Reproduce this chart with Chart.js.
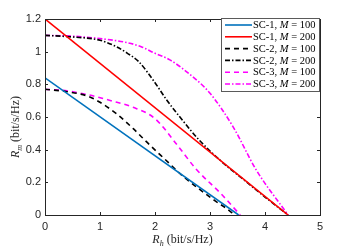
<!DOCTYPE html>
<html>
<head>
<meta charset="utf-8">
<script src="https://cdn.jsdelivr.net/npm/chart.js@4.4.0/dist/chart.umd.min.js"></script>
<style>
  html, body { margin: 0; padding: 0; background: #fff; }
  canvas { display: block; }
</style>
</head>
<body>
<canvas id="chart" width="354" height="248"></canvas>
<script>
const xTicks = [0, 1, 2, 3, 4, 5];
const yTicks = [0, 0.2, 0.4, 0.6, 0.8, 1, 1.2];

const seriesNames = ['SC-1', 'SC-1', 'SC-2', 'SC-2', 'SC-3', 'SC-3'];
const seriesM = [100, 200, 100, 200, 100, 200];

// R_h values, R_m values for each curve
const sc1_100_x = [0, 3.52];
const sc1_100_y = [0.84, 0];
const sc1_200_x = [0, 4.42];
const sc1_200_y = [1.2, 0];
const sc2_100_x = [0, 0.4, 0.8, 1.0, 1.3, 1.6, 1.9, 2.2, 2.5, 2.8, 3.1, 3.3, 3.45];
const sc2_100_y = [0.77, 0.755, 0.725, 0.69, 0.62, 0.53, 0.43, 0.335, 0.24, 0.16, 0.085, 0.04, 0];
const sc2_200_x = [0, 0.5, 1.0, 1.3, 1.5, 1.7, 2.0, 2.2, 2.5, 2.8, 3.2, 3.6, 4.0, 4.42];
const sc2_200_y = [1.1, 1.09, 1.07, 1.03, 0.99, 0.94, 0.81, 0.71, 0.58, 0.46, 0.33, 0.22, 0.11, 0];
const sc3_100_x = [0, 0.4, 0.8, 1.2, 1.6, 2.0, 2.4, 2.75, 3.2, 3.55];
const sc3_100_y = [0.77, 0.76, 0.735, 0.70, 0.66, 0.59, 0.43, 0.28, 0.13, 0];
const sc3_200_x = [0, 0.5, 1.0, 1.5, 1.75, 2.0, 2.27, 2.6, 3.0, 3.42, 3.84, 4.42];
const sc3_200_y = [1.1, 1.095, 1.08, 1.055, 1.03, 0.99, 0.95, 0.87, 0.745, 0.54, 0.276, 0];

const pts = (xs, ys) => xs.map((x, i) => ({x: x, y: ys[i]}));

const styles = [
    {color: '#0072BD', dash: []},
    {color: '#FF0000', dash: []},
    {color: '#000000', dash: [5, 4]},
    {color: '#000000', dash: [5, 2, 1.5, 2]},
    {color: '#FF00FF', dash: [5, 4]},
    {color: '#FF00FF', dash: [5, 2, 1.5, 2]},
];
const curves = [
    pts(sc1_100_x, sc1_100_y),
    pts(sc1_200_x, sc1_200_y),
    pts(sc2_100_x, sc2_100_y),
    pts(sc2_200_x, sc2_200_y),
    pts(sc3_100_x, sc3_100_y),
    pts(sc3_200_x, sc3_200_y),
];

const datasets = curves.map((d, i) => ({
    label: seriesNames[i] + ', M = ' + seriesM[i],
    data: d,
    showLine: true,
    borderColor: styles[i].color,
    backgroundColor: styles[i].color,
    borderDash: styles[i].dash,
    borderWidth: 1.6,
    pointRadius: 0,
    cubicInterpolationMode: i < 2 ? 'default' : 'monotone',
    tension: i < 2 ? 0 : 0.4,
}));

const axisColor = '#262626';
const serif = '"Liberation Serif", "DejaVu Serif", serif';

const frame = {
    id: 'frame',
    afterDraw(chart) {
        const {ctx, chartArea: a, scales} = chart;
        ctx.save();
        ctx.strokeStyle = axisColor;
        ctx.lineWidth = 1;
        ctx.setLineDash([]);
        ctx.strokeRect(Math.round(a.left) + 0.5, Math.round(a.top) + 0.5,
            Math.round(a.right - a.left), Math.round(a.bottom - a.top));
        // inward ticks on all four sides
        const tl = 3;
        ctx.beginPath();
        xTicks.forEach(v => {
            const px = Math.round(scales.x.getPixelForValue(v)) + 0.5;
            ctx.moveTo(px, a.bottom); ctx.lineTo(px, a.bottom - tl);
            ctx.moveTo(px, a.top); ctx.lineTo(px, a.top + tl);
        });
        yTicks.forEach(v => {
            const py = Math.round(scales.y.getPixelForValue(v)) + 0.5;
            ctx.moveTo(a.left, py); ctx.lineTo(a.left + tl, py);
            ctx.moveTo(a.right, py); ctx.lineTo(a.right - tl, py);
        });
        ctx.stroke();

        // axis titles: R_h and R_m with subscripts
        const drawTitle = (sub, cx, cy, rot) => {
            ctx.save();
            ctx.translate(cx, cy);
            ctx.rotate(rot);
            ctx.fillStyle = axisColor;
            ctx.textBaseline = 'alphabetic';
            const big = 'italic 12px ' + serif;
            const small = 'italic 8px ' + serif;
            const rest = '12px ' + serif;
            const tail = ' (bit/s/Hz)';
            ctx.font = big; const w1 = ctx.measureText('R').width;
            ctx.font = small; const w2 = ctx.measureText(sub).width;
            ctx.font = rest; const w3 = ctx.measureText(tail).width;
            let x = -(w1 + w2 + w3) / 2;
            ctx.font = big; ctx.fillText('R', x, 4); x += w1;
            ctx.font = small; ctx.fillText(sub, x, 6.5); x += w2;
            ctx.font = rest; ctx.fillText(tail, x, 4);
            ctx.restore();
        };
        drawTitle('h', (a.left + a.right) / 2, 239, 0);
        drawTitle('m', 15, (a.top + a.bottom) / 2 + 10, -Math.PI / 2);

        // legend box in the upper right corner
        const lx = 221, ly = 18, lw = 98, lh = 73, row = 11.8;
        ctx.fillStyle = '#fff';
        ctx.fillRect(lx, ly, lw, lh);
        ctx.strokeStyle = '#5a5a5a';
        ctx.strokeRect(lx + 0.5, ly + 0.5, lw, lh);
        chart.data.datasets.forEach((ds, i) => {
            const y = ly + 7 + i * row;
            ctx.strokeStyle = ds.borderColor;
            ctx.lineWidth = 1.6;
            ctx.setLineDash(ds.borderDash);
            ctx.beginPath();
            ctx.moveTo(lx + 4, y); ctx.lineTo(lx + 31, y);
            ctx.stroke();
            ctx.setLineDash([]);
            ctx.fillStyle = '#000';
            ctx.textBaseline = 'middle';
            let x = lx + 32;
            const parts = [
                ['10.5px ' + serif, seriesNames[i] + ', '],
                ['italic 10.5px ' + serif, 'M'],
                ['10.5px ' + serif, ' = ' + seriesM[i]],
            ];
            parts.forEach(([f, t]) => {
                ctx.font = f;
                ctx.fillText(t, x, y + 0.5);
                x += ctx.measureText(t).width;
            });
        });
        ctx.restore();
    }
};

new Chart(document.getElementById('chart').getContext('2d'), {
    type: 'scatter',
    data: {datasets: datasets},
    options: {
        responsive: false,
        animation: false,
        layout: {padding: {left: 0, top: 19, right: 34, bottom: 0}},
        plugins: {legend: {display: false}, tooltip: {enabled: false}},
        scales: {
            x: {
                type: 'linear', min: 0, max: 5,
                grid: {display: false, drawTicks: false}, border: {display: false},
                afterBuildTicks: (s) => { s.ticks = xTicks.map(v => ({value: v})); },
                afterFit: (s) => { s.height = 33; },
                ticks: {color: axisColor, padding: 5, font: {family: '"Liberation Sans", Arial, sans-serif', size: 11}},
            },
            y: {
                type: 'linear', min: 0, max: 1.2,
                grid: {display: false, drawTicks: false}, border: {display: false},
                afterBuildTicks: (s) => { s.ticks = yTicks.map(v => ({value: v})); },
                afterFit: (s) => { s.width = 45; },
                ticks: {color: axisColor, padding: 4, font: {family: '"Liberation Sans", Arial, sans-serif', size: 11},
                    callback: (v) => String(v)},
            },
        },
    },
    plugins: [frame],
});
</script>
</body>
</html>
